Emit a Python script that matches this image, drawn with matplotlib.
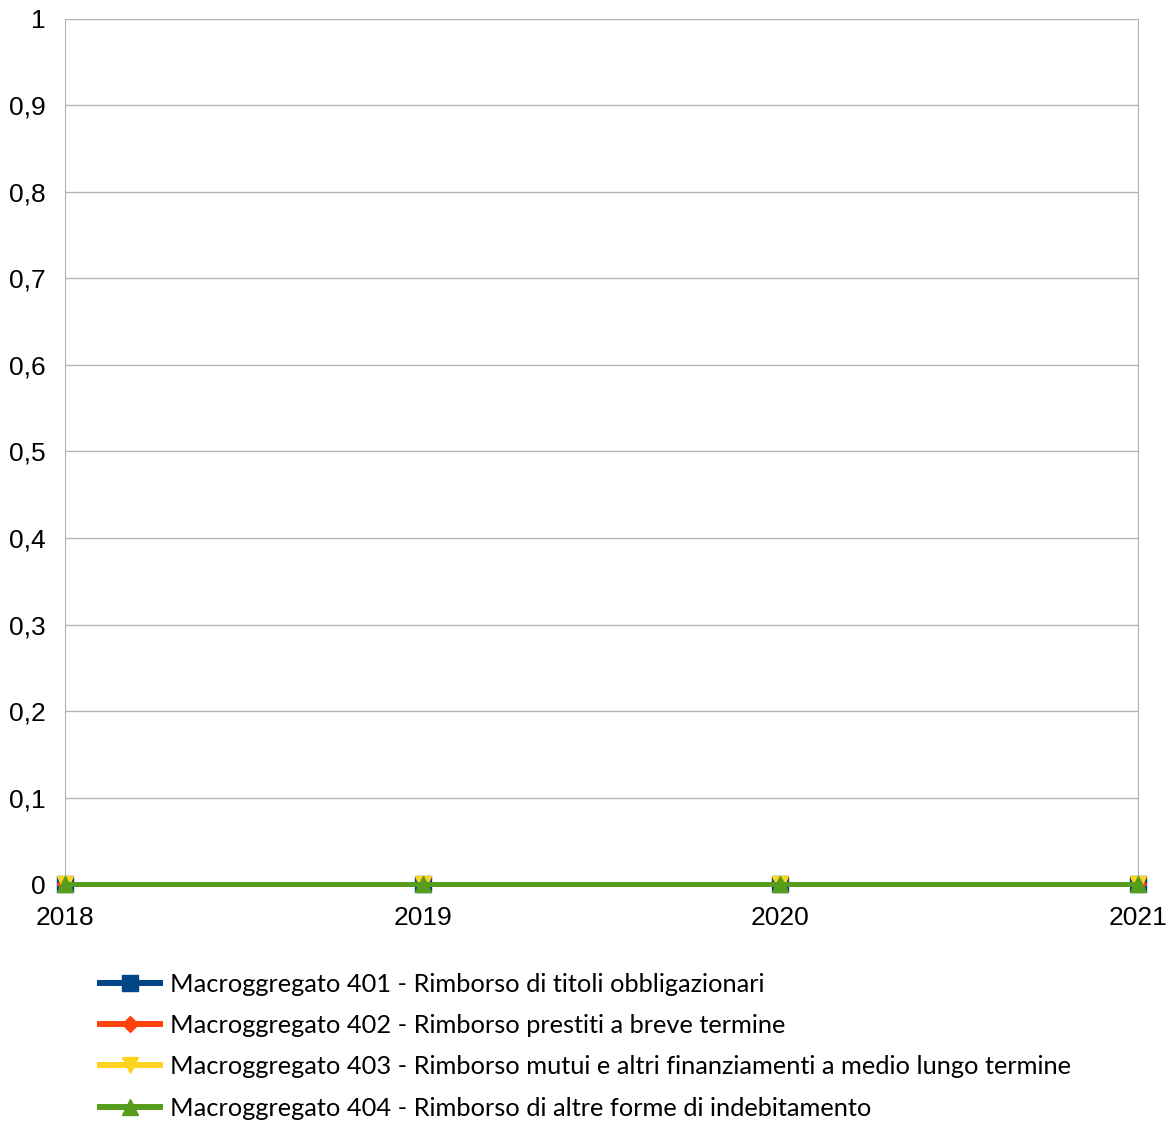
import matplotlib
matplotlib.use("Agg")
import matplotlib.pyplot as plt
from matplotlib.ticker import FuncFormatter

# Dati
anni = ["2018", "2019", "2020", "2021"]
serie = [
    "Macroggregato 401 - Rimborso di titoli obbligazionari",
    "Macroggregato 402 - Rimborso prestiti a breve termine",
    "Macroggregato 403 - Rimborso mutui e altri finanziamenti a medio lungo termine",
    "Macroggregato 404 - Rimborso di altre forme di indebitamento",
]
val_401 = [0, 0, 0, 0]
val_402 = [0, 0, 0, 0]
val_403 = [0, 0, 0, 0]
val_404 = [0, 0, 0, 0]

colori = ["#004586", "#ff420e", "#ffd320", "#579d1c"]
marker = ["s", "D", "v", "^"]
msize = [11, 8, 12, 12]

plt.rcParams["font.family"] = ["Liberation Sans", "DejaVu Sans"]


def fmt(v, pos):
    s = f"{v:.1f}".replace(".", ",")
    if s.endswith(",0"):
        s = s[:-2]
    return s


fig = plt.figure(figsize=(11.73, 11.22), dpi=100)
ax = fig.add_axes([0.0554, 0.2121, 0.9148, 0.7710])

x = list(range(len(anni)))
for i, vals in enumerate([val_401, val_402, val_403, val_404]):
    ax.plot(x, vals, color=colori[i], lw=3.6, marker=marker[i],
            markersize=msize[i], label=serie[i], clip_on=False, zorder=3 + i)

ax.set_xlim(0, 3)
ax.set_ylim(0, 1)
ax.set_xticks(x)
ax.set_xticklabels(anni)
ax.set_yticks([i / 10 for i in range(11)])
ax.yaxis.set_major_formatter(FuncFormatter(fmt))
ax.yaxis.grid(True, color="#b3b3b3", lw=1)
ax.set_axisbelow(True)
for s in ["top", "bottom"]:
    ax.spines[s].set_visible(False)
for s in ["left", "right"]:
    ax.spines[s].set_color("#b3b3b3")
ax.tick_params(axis="y", length=0, labelsize=19, pad=14)
ax.tick_params(axis="x", length=0, labelsize=19, pad=16)

leg = fig.legend(loc="upper left", bbox_to_anchor=(0.0853, 0.133), frameon=False,
                 prop={"family": ["Lato", "DejaVu Sans"], "size": 18.3},
                 handlelength=2.35, handletextpad=0.4, labelspacing=0.72,
                 borderpad=0, borderaxespad=0)
for h in leg.legend_handles:
    h.set_linewidth(4.3)

fig.savefig("out.png", dpi=100)
